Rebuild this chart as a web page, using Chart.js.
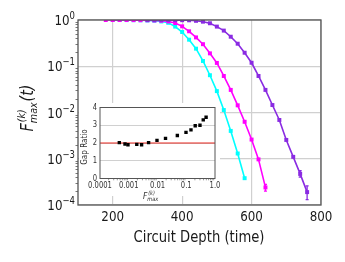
<!DOCTYPE html>
<html>
<head>
<meta charset="utf-8">
<script src="https://cdn.jsdelivr.net/npm/chart.js@4.4.1/dist/chart.umd.min.js"></script>
<style>
    html, body { margin: 0; padding: 0; background: #fff; }
    #wrap { position: relative; width: 345px; height: 262px; }
    #mainChart { position: absolute; left: 0; top: 0; }
    #insetChart { position: absolute; left: 79px; top: 103px; }
</style>
</head>
<body>
<div id="wrap">
    <canvas id="mainChart" width="345" height="262"></canvas>
    <canvas id="insetChart" width="141" height="100"></canvas>
</div>
<script>
// main panel: max fidelity vs circuit depth
const depthCyan = [200, 220, 240, 260, 280, 300, 320, 340, 360, 380, 400, 420, 440, 460, 480, 500, 520, 540, 560, 580];
const fidCyan = [1.0, 1.0, 0.995, 0.99, 0.985, 0.975, 0.96, 0.93, 0.87, 0.72, 0.55, 0.375, 0.24, 0.13, 0.064, 0.029, 0.0113, 0.0040, 0.0013, 0.00038];

const depthMagenta = [180, 200, 220, 240, 260, 280, 300, 320, 340, 360, 380, 400, 420, 440, 460, 480, 500, 520, 540, 560, 580, 600, 620, 640];
const fidMagenta = [1.0, 1.0, 1.0, 1.0, 0.995, 0.99, 0.985, 0.975, 0.96, 0.93, 0.86, 0.73, 0.57, 0.42, 0.30, 0.19, 0.118, 0.0616, 0.0308, 0.0143, 0.0063, 0.0026, 0.00097, 0.00024];

const depthPurple = [300, 320, 340, 360, 380, 400, 420, 440, 460, 480, 500, 520, 540, 560, 580, 600, 620, 640, 660, 680, 700, 720, 740, 760];
const fidPurple = [1.0, 1.0, 0.998, 0.997, 0.995, 0.99, 0.985, 0.96, 0.92, 0.85, 0.72, 0.59, 0.435, 0.307, 0.196, 0.119, 0.0616, 0.0308, 0.0145, 0.0069, 0.00255, 0.0011, 0.00047, 0.00019];

// error bars (only where visible)
const errDepthMagenta = [640];
const errLoMagenta = [0.0002];
const errHiMagenta = [0.00028];
const errDepthPurple = [740, 760];
const errLoPurple = [0.00040, 0.000131];
const errHiPurple = [0.00055, 0.00026];

const xTicks = [200, 400, 600, 800];
const yTicks = [1, 0.1, 0.01, 0.001, 0.0001];
const yExponents = ['0', '\u22121', '\u22122', '\u22123', '\u22124'];

// inset: gap ratio vs max fidelity
const gapF = [0.00047, 0.00074, 0.00094, 0.0019, 0.0028, 0.0049, 0.0096, 0.019, 0.049, 0.098, 0.146, 0.205, 0.30, 0.39, 0.49];
const gapRatio = [2.02, 1.94, 1.90, 1.92, 1.90, 2.02, 2.15, 2.26, 2.42, 2.60, 2.74, 2.97, 3.00, 3.30, 3.45];
const refRatio = 2;
const insetXTicks = [0.0001, 0.001, 0.01, 0.1, 1];
const insetXLabels = ['0.0001', '0.001', '0.01', '0.1', '1.0'];
const insetYTicks = [0, 1, 2, 3, 4];

const FONT = '"DejaVu Sans", sans-serif';
const SQUEEZE = 0.85;
const CYAN = '#00ffff';
const MAGENTA = '#ff00ff';
const PURPLE = '#8a2be2';
const GRID = '#d0d0d0';
const FRAME = '#555555';

function toPoints(xs, ys) {
    return xs.map((x, i) => ({ x: x, y: ys[i] }));
}

function squeezedText(ctx, text, x, y, align) {
    ctx.save();
    ctx.translate(x, y);
    ctx.scale(SQUEEZE, 1);
    ctx.textAlign = align;
    ctx.fillText(text, 0, 0);
    ctx.restore();
}

// F with (k) superscript and max subscript, optional tail, centered at (cx, cy)
function drawFLabel(ctx, cx, cy, size, tail, angle) {
    const small = size * 0.66;
    ctx.save();
    ctx.translate(cx, cy);
    ctx.rotate(angle);
    ctx.scale(SQUEEZE, 1);
    ctx.textBaseline = 'alphabetic';
    ctx.textAlign = 'left';
    ctx.font = `italic ${size}px ${FONT}`;
    const wF = ctx.measureText('F').width;
    const wTail = tail ? ctx.measureText(tail).width : 0;
    ctx.font = `italic ${small}px ${FONT}`;
    const wScript = Math.max(ctx.measureText('(k)').width, ctx.measureText('max').width);
    const total = wF + wScript + 1 + wTail;
    let x = -total / 2;
    const base = size * 0.36;
    ctx.font = `italic ${size}px ${FONT}`;
    ctx.fillText('F', x, base);
    x += wF;
    ctx.font = `italic ${small}px ${FONT}`;
    ctx.fillText('(k)', x + 1, base - size * 0.5);
    ctx.fillText('max', x, base + size * 0.22);
    x += wScript + 1;
    if (tail) {
        ctx.font = `italic ${size}px ${FONT}`;
        ctx.fillText(tail, x, base);
    }
    ctx.restore();
}

function drawErrors(ctx, chart, xs, lo, hi, color) {
    const xs_ = chart.scales.x;
    const ys_ = chart.scales.y;
    ctx.save();
    ctx.strokeStyle = color;
    ctx.lineWidth = 1.3;
    xs.forEach((d, i) => {
        const px = xs_.getPixelForValue(d);
        const y0 = ys_.getPixelForValue(lo[i]);
        const y1 = ys_.getPixelForValue(hi[i]);
        ctx.beginPath();
        ctx.moveTo(px, y0); ctx.lineTo(px, y1);
        ctx.moveTo(px - 1.5, y0); ctx.lineTo(px + 1.5, y0);
        ctx.moveTo(px - 1.5, y1); ctx.lineTo(px + 1.5, y1);
        ctx.stroke();
    });
    ctx.restore();
}

const mainDecor = {
    id: 'mainDecor',
    afterDatasetsDraw(chart) {
        const ctx = chart.ctx;
        drawErrors(ctx, chart, errDepthMagenta, errLoMagenta, errHiMagenta, MAGENTA);
        drawErrors(ctx, chart, errDepthPurple, errLoPurple, errHiPurple, PURPLE);
    },
    afterDraw(chart) {
        const ctx = chart.ctx;
        const area = chart.chartArea;
        const xs = chart.scales.x;
        const ys = chart.scales.y;

        // frame
        ctx.save();
        ctx.strokeStyle = FRAME;
        ctx.lineWidth = 1.3;
        ctx.strokeRect(area.left, area.top, area.right - area.left, area.bottom - area.top);

        // minor ticks on the log axis
        ctx.lineWidth = 0.8;
        ctx.beginPath();
        for (let e = -4; e < 0; e++) {
            for (let m = 2; m <= 9; m++) {
                const py = Math.round(ys.getPixelForValue(m * Math.pow(10, e))) + 0.5;
                ctx.moveTo(area.left - 2.5, py);
                ctx.lineTo(area.left, py);
            }
        }
        ctx.stroke();

        // tick labels
        ctx.fillStyle = '#1a1a1a';
        ctx.textBaseline = 'alphabetic';
        ctx.font = `14px ${FONT}`;
        xTicks.forEach(v => {
            squeezedText(ctx, String(v), xs.getPixelForValue(v), area.bottom + 16, 'center');
        });
        yTicks.forEach((v, i) => {
            const py = ys.getPixelForValue(v);
            ctx.font = `10px ${FONT}`;
            const wExp = ctx.measureText(yExponents[i]).width * SQUEEZE;
            const right = area.left - 3;
            squeezedText(ctx, yExponents[i], right, py - 1, 'right');
            ctx.font = `14px ${FONT}`;
            squeezedText(ctx, '10', right - wExp, py + 5, 'right');
        });

        // axis titles
        ctx.font = `15.5px ${FONT}`;
        ctx.textBaseline = 'middle';
        squeezedText(ctx, 'Circuit Depth (time)', 199, 238, 'center');
        drawFLabel(ctx, 27, 108, 17, '(t)', -Math.PI / 2);
        ctx.restore();
    }
};

const lineStyle = (color) => ({
    borderColor: color,
    backgroundColor: color,
    borderWidth: 1.6,
    pointStyle: 'rect',
    pointRadius: 2.8,
    pointBorderWidth: 0,
    tension: 0
});

new Chart(document.getElementById('mainChart'), {
    type: 'line',
    data: {
        datasets: [
            Object.assign({ label: 'cyan', data: toPoints(depthCyan, fidCyan), order: 2 }, lineStyle(CYAN)),
            Object.assign({ label: 'magenta', data: toPoints(depthMagenta, fidMagenta), order: 1 }, lineStyle(MAGENTA)),
            Object.assign({ label: 'purple', data: toPoints(depthPurple, fidPurple), order: 0 }, lineStyle(PURPLE))
        ]
    },
    options: {
        responsive: false,
        animation: false,
        devicePixelRatio: 1,
        layout: { padding: { top: 20, right: 24, left: 0, bottom: 0 } },
        plugins: { legend: { display: false }, tooltip: { enabled: false } },
        scales: {
            x: {
                type: 'linear',
                min: 100,
                max: 800,
                afterBuildTicks: s => { s.ticks = xTicks.map(v => ({ value: v })); },
                afterFit: s => { s.height = 57; },
                ticks: { display: false },
                grid: { color: GRID, lineWidth: 1.2, drawTicks: false },
                border: { display: false }
            },
            y: {
                type: 'logarithmic',
                min: 0.0001,
                max: 1,
                afterBuildTicks: s => { s.ticks = yTicks.map(v => ({ value: v })); },
                afterFit: s => { s.width = 78; },
                ticks: { display: false },
                grid: { color: GRID, lineWidth: 1.2, drawTicks: false },
                border: { display: false }
            }
        }
    },
    plugins: [mainDecor]
});

const insetDecor = {
    id: 'insetDecor',
    beforeDraw(chart) {
        const ctx = chart.ctx;
        ctx.save();
        ctx.fillStyle = '#ffffff';
        ctx.fillRect(0, 0, 141, 93);
        ctx.restore();
    },
    afterDraw(chart) {
        const ctx = chart.ctx;
        const area = chart.chartArea;
        const xs = chart.scales.x;
        ctx.save();
        ctx.strokeStyle = FRAME;
        ctx.lineWidth = 1;
        ctx.strokeRect(area.left, area.top, area.right - area.left, area.bottom - area.top);

        // minor ticks along the bottom
        ctx.lineWidth = 0.6;
        ctx.beginPath();
        for (let e = -4; e < 0; e++) {
            for (let m = 2; m <= 9; m++) {
                const px = xs.getPixelForValue(m * Math.pow(10, e));
                ctx.moveTo(px, area.bottom);
                ctx.lineTo(px, area.bottom + 1.8);
            }
        }
        ctx.stroke();

        ctx.fillStyle = '#333';
        ctx.textBaseline = 'middle';
        ctx.font = `8px ${FONT}`;
        insetXTicks.forEach((v, i) => {
            squeezedText(ctx, insetXLabels[i], xs.getPixelForValue(v), area.bottom + 7, 'center');
        });
        const ys = chart.scales.y;
        insetYTicks.forEach(v => {
            squeezedText(ctx, String(v), area.left - 3, ys.getPixelForValue(v), 'right');
        });

        // axis titles
        ctx.save();
        ctx.translate(6, 44);
        ctx.rotate(-Math.PI / 2);
        ctx.font = `8.5px ${FONT}`;
        squeezedText(ctx, 'Gap Ratio', 0, 0, 'center');
        ctx.restore();
        drawFLabel(ctx, 72, 93, 9, '', 0);
        ctx.restore();
    }
};

new Chart(document.getElementById('insetChart'), {
    type: 'scatter',
    data: {
        datasets: [
            {
                label: 'gap',
                data: toPoints(gapF, gapRatio),
                backgroundColor: '#000',
                borderColor: '#000',
                pointStyle: 'rect',
                pointRadius: 2.4,
                pointBorderWidth: 0,
                order: 0
            },
            {
                type: 'line',
                label: 'ref',
                data: [{ x: insetXTicks[0], y: refRatio }, { x: insetXTicks[insetXTicks.length - 1], y: refRatio }],
                borderColor: '#e8261f',
                borderWidth: 1,
                pointRadius: 0,
                order: 1
            }
        ]
    },
    options: {
        responsive: false,
        animation: false,
        devicePixelRatio: 1,
        layout: { padding: { top: 4.5, right: 5, left: 0, bottom: 0 } },
        plugins: { legend: { display: false }, tooltip: { enabled: false } },
        scales: {
            x: {
                type: 'logarithmic',
                min: 0.0001,
                max: 1,
                afterBuildTicks: s => { s.ticks = insetXTicks.map(v => ({ value: v })); },
                afterFit: s => { s.height = 24.5; },
                ticks: { display: false },
                grid: { display: false, drawTicks: false },
                border: { display: false }
            },
            y: {
                type: 'linear',
                min: 0,
                max: 4,
                afterBuildTicks: s => { s.ticks = insetYTicks.map(v => ({ value: v })); },
                afterFit: s => { s.width = 21; },
                ticks: { display: false },
                grid: { color: GRID, lineWidth: 1, drawTicks: false },
                border: { display: false }
            }
        }
    },
    plugins: [insetDecor]
});
</script>
</body>
</html>
